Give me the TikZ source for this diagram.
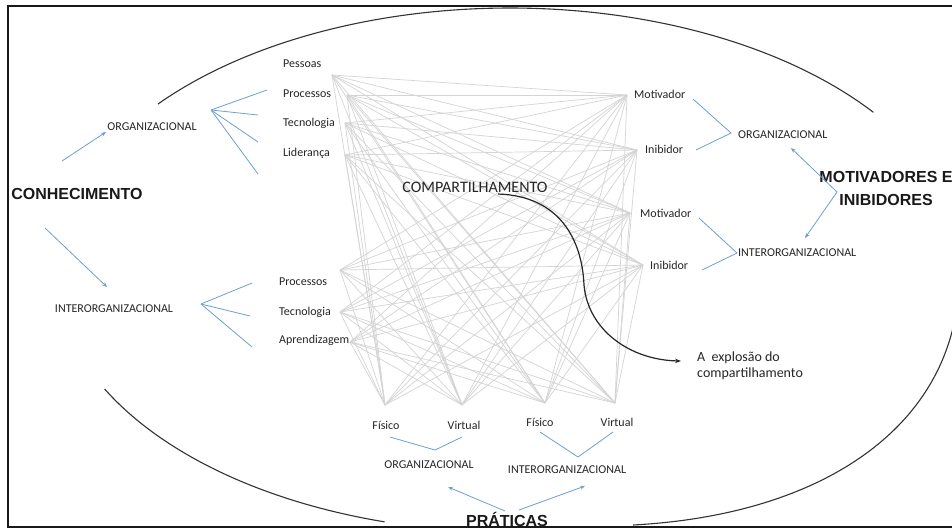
\documentclass[tikz,border=0pt]{standalone}
\usepackage{fontspec}
\setmainfont{Carlito}
\newfontfamily\titlefont{Liberation Sans}
\usetikzlibrary{arrows.meta}
\definecolor{bluel}{RGB}{110,160,210}
\definecolor{grayl}{RGB}{212,212,212}
\begin{document}
\begin{tikzpicture}[x=1pt,y=-1pt,
  lbl/.style={font=\fontsize{12}{14}\selectfont, inner sep=0pt, text=black!85},
  ttl/.style={font=\titlefont\bfseries\fontsize{16}{23}\selectfont, inner sep=0pt, align=center, text=black!90},
  bl/.style={draw=bluel, line width=0.8pt},
  blarr/.style={bl, -{Stealth[length=5pt,width=4pt]}},
  net/.style={draw=grayl, line width=0.7pt},
  ell/.style={draw=black!80, line width=1.1pt}]
\useasboundingbox (0,0) rectangle (952,531);
\clip (0,0) rectangle (952,531);
\fill[white] (0,0) rectangle (952,531);
% frame
\draw[line width=2pt, black!90] (8,6) rectangle (990,527);
% big ellipse pieces
\draw[ell] (510,270) ++(140.7:455pt and 262pt) arc[start angle=140.7, end angle=37, x radius=455pt, y radius=262pt];
\draw[ell] (510,270) ++(207:455pt and 262pt) arc[start angle=207, end angle=254, x radius=455pt, y radius=262pt];
\draw[ell] (958,298) .. controls (945,430) and (820,515) .. (633,525);
% network anchors
\coordinate (L1) at (332,75);
\coordinate (L2) at (347,95);
\coordinate (L3) at (345,123);
\coordinate (L4) at (345,155);
\coordinate (L5) at (340,270);
\coordinate (L6) at (340,312);
\coordinate (L7) at (350,342);
\coordinate (R1) at (627,95);
\coordinate (R2) at (637,150);
\coordinate (R3) at (630,213);
\coordinate (R4) at (643,265);
\coordinate (B1) at (385,405);
\coordinate (B2) at (462,405);
\coordinate (B3) at (545,403);
\coordinate (B4) at (615,403);
\foreach \a in {L1,L2,L3,L4,L5,L6,L7}{
  \foreach \b in {R1,R2,R3,R4,B1,B2,B3,B4}{\draw[net] (\a) -- (\b);}}
\foreach \a in {R1,R2,R3,R4}{
  \foreach \b in {B1,B2,B3,B4}{\draw[net] (\a) -- (\b);}}
% left labels
\node[lbl, anchor=west] (pes) at (283,64) {Pessoas};
\node[lbl, anchor=west] (pro) at (283,94) {Processos};
\node[lbl, anchor=west] (tec) at (283,123) {Tecnologia};
\node[lbl, anchor=west] (lid) at (283,153) {Liderança};
\node[lbl, anchor=west] (pro2) at (279,282) {Processos};
\node[lbl, anchor=west] (tec2) at (279,312) {Tecnologia};
\node[lbl, anchor=west] (apr) at (279,340) {Aprendizagem};
% right labels
\node[lbl, anchor=west] (mot) at (634,94) {Motivador};
\node[lbl, anchor=west] (ini) at (645,149) {Inibidor};
\node[lbl, anchor=west] (mot2) at (640,213) {Motivador};
\node[lbl, anchor=west] (ini2) at (650,265) {Inibidor};
% bottom labels
\node[lbl] (fis) at (386,425) {Físico};
\node[lbl] (vir) at (464,425) {Virtual};
\node[lbl] (fis2) at (540,422) {Físico};
\node[lbl] (vir2) at (617,422) {Virtual};
% category labels
\node[lbl] (orgL) at (152,127) {ORGANIZACIONAL};
\node[lbl] (intL) at (114,309) {INTERORGANIZACIONAL};
\node[lbl, anchor=west] (orgR) at (738,135) {ORGANIZACIONAL};
\node[lbl, anchor=west] (intR) at (738,253) {INTERORGANIZACIONAL};
\node[lbl] (orgB) at (429,465) {ORGANIZACIONAL};
\node[lbl] (intB) at (567,470) {INTERORGANIZACIONAL};
% titles
\node[ttl] (con) at (77,194) {CONHECIMENTO};
\node[ttl] (mi) at (886,188) {MOTIVADORES E\\INIBIDORES};
\node[ttl, anchor=base] (pra) at (507,526) {PRÁTICAS};
\node[lbl, font=\fontsize{16}{18}\selectfont] (comp) at (475,187) {COMPARTILHAMENTO};
\node[lbl, font=\fontsize{14}{16}\selectfont, anchor=west, align=left] (expl) at (697,366) {A~ explosão do\\compartilhamento};
% blue connectors: knowledge
\coordinate (c1) at (62,161);
\coordinate (c1e) at (106,132);
\draw[blarr] (c1) -- (c1e);
\coordinate (c2) at (45,228);
\coordinate (c2e) at (107,287);
\draw[blarr] (c2) -- (c2e);
\coordinate (fo) at (211,110);
\draw[bl] (fo) -- (267,90);
\draw[bl] (fo) -- (258,115);
\draw[bl] (fo) -- (258,142);
\draw[bl] (fo) -- (258,174);
\coordinate (fi) at (201,304);
\draw[bl] (fi) -- (252,283);
\draw[bl] (fi) -- (250,316);
\draw[bl] (fi) -- (252,347);
% blue connectors: motivators
\coordinate (vR1) at (731,133);
\draw[bl] (693,99) -- (vR1) -- (696,150);
\coordinate (vR2) at (737,253);
\draw[bl] (699,218) -- (vR2) -- (702,270);
\coordinate (mv) at (837,192);
\draw[blarr] (mv) -- (791,148);
\draw[blarr] (mv) -- (805,238);
% blue connectors: practices
\coordinate (vB1) at (435,450);
\draw[bl] (390,437) -- (vB1) -- (462,437);
\coordinate (vB2) at (578,457);
\draw[bl] (540,432) -- (vB2) -- (613,432);
\coordinate (p1) at (505,511);
\draw[blarr] (p1) -- (448,487);
\coordinate (p2) at (519,510);
\draw[blarr] (p2) -- (585,486);
% explosion arrow
\coordinate (cs) at (498,194);
\coordinate (ce) at (681,361);
\draw[black!85, line width=1.2pt, -{Stealth[length=6pt,width=4.5pt]}] (cs) .. controls (560,196) and (582,240) .. (584,285) .. controls (588,330) and (630,360) .. (ce);
\end{tikzpicture}
\end{document}
